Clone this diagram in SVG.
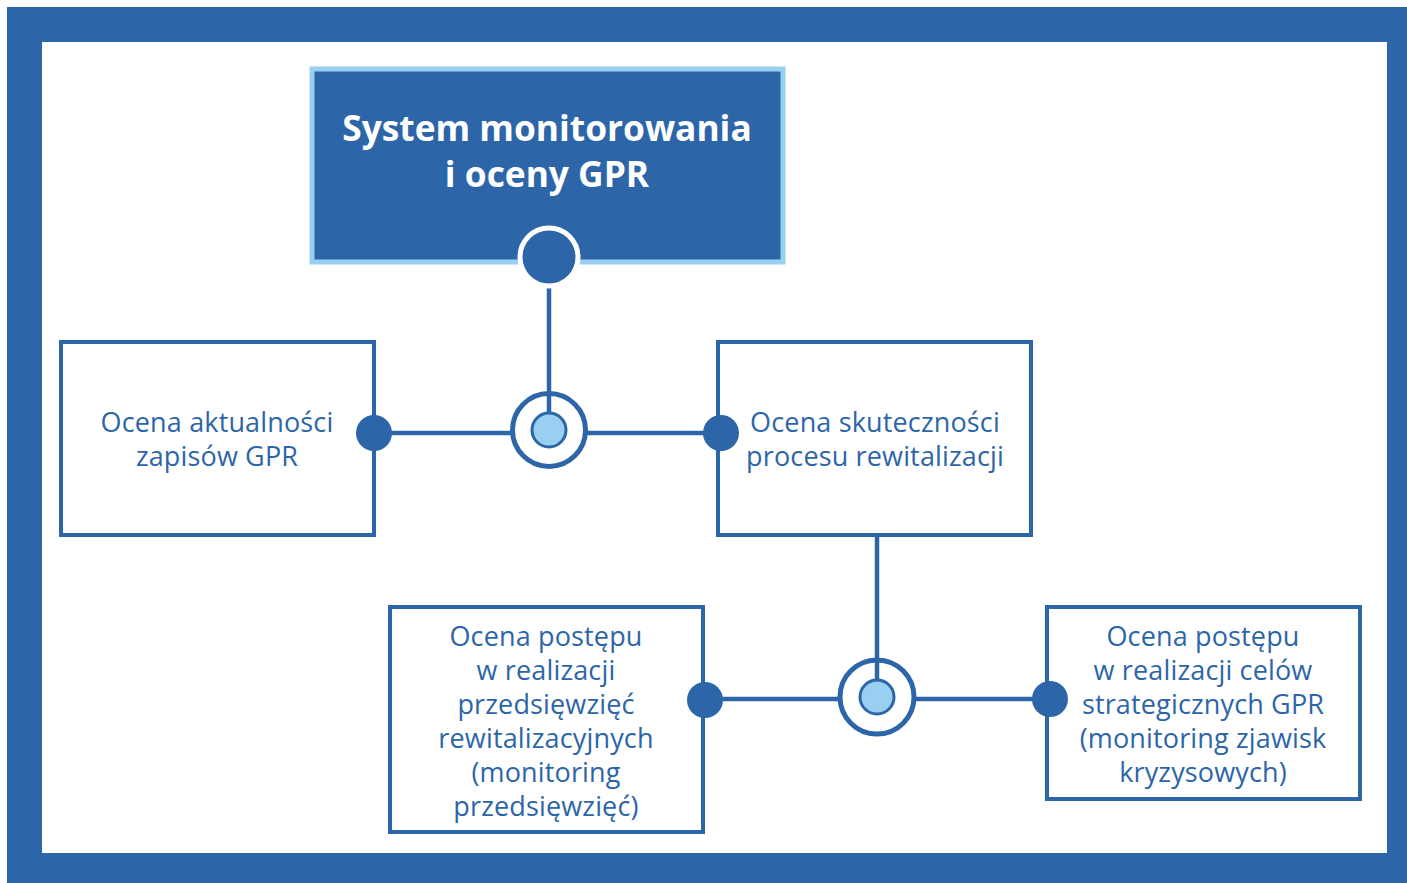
<svg xmlns="http://www.w3.org/2000/svg" width="1407" height="883" viewBox="0 0 1407 883">
<style>
.box{fill:#ffffff;stroke:#2d66a8;stroke-width:4}
.t{font-family:"Open Sans","Liberation Sans",sans-serif;font-size:27px;letter-spacing:0.15px;fill:#2d66a8;text-anchor:middle}
.title{font-family:"Open Sans","Liberation Sans",sans-serif;font-size:35.3px;font-weight:bold;fill:#ffffff;text-anchor:middle}
.ln{stroke:#2d66a8;stroke-width:4.5;fill:none}
.dot{fill:#2d66a8}
.ring{fill:#ffffff;stroke:#2d66a8;stroke-width:5}
.hub{fill:#99d0f2;stroke:#2d66a8;stroke-width:3}
</style>
<rect x="7" y="7" width="1400" height="876" fill="#2d66a8"/>
<rect x="42" y="42" width="1345" height="811" fill="#ffffff"/>
<g id="connectors">
<line class="ln" x1="549" y1="258" x2="549" y2="414"/>
<line class="ln" x1="374" y1="433" x2="721" y2="433"/>
<line class="ln" x1="877" y1="535" x2="877" y2="680"/>
<line class="ln" x1="705" y1="699" x2="1050" y2="699"/>
</g>
<g id="node-system">
<rect x="312" y="69" width="471" height="193" fill="#2d66a8" stroke="#99d0f2" stroke-width="5"/>
<text class="title" x="547" y="141">System monitorowania</text>
<text class="title" x="547" y="187">i oceny GPR</text>
<circle cx="549" cy="257" r="29" fill="#2d66a8" stroke="#ffffff" stroke-width="5"/>
</g>
<g id="node-aktualnosc">
<rect class="box" x="61" y="342" width="313" height="193"/>
<text class="t" x="217" y="432">Ocena aktualności</text>
<text class="t" x="217" y="466">zapisów GPR</text>
<circle class="dot" cx="374" cy="433" r="18"/>
</g>
<g id="node-skutecznosc">
<rect class="box" x="718" y="342" width="313" height="193"/>
<text class="t" x="875" y="432">Ocena skuteczności</text>
<text class="t" x="875" y="466">procesu rewitalizacji</text>
<circle class="dot" cx="721" cy="433" r="18"/>
</g>
<g id="hub-1">
<circle class="ring" cx="549" cy="430" r="36.5"/>
<line class="ln" x1="549" y1="393" x2="549" y2="413"/>
<circle class="hub" cx="549" cy="430" r="17"/>
</g>
<g id="node-przedsiewziecia">
<rect class="box" x="390" y="607" width="313" height="225"/>
<text class="t" x="546" y="646">Ocena postępu</text>
<text class="t" x="546" y="680">w realizacji</text>
<text class="t" x="546" y="714">przedsięwzięć</text>
<text class="t" x="546" y="748">rewitalizacyjnych</text>
<text class="t" x="546" y="782">(monitoring</text>
<text class="t" x="546" y="816">przedsięwzięć)</text>
<circle class="dot" cx="705" cy="700" r="18"/>
</g>
<g id="node-cele">
<rect class="box" x="1047" y="607" width="313" height="192"/>
<text class="t" x="1203" y="646">Ocena postępu</text>
<text class="t" x="1203" y="680">w realizacji celów</text>
<text class="t" x="1203" y="714">strategicznych GPR</text>
<text class="t" x="1203" y="748">(monitoring zjawisk</text>
<text class="t" x="1203" y="782">kryzysowych)</text>
<circle class="dot" cx="1050" cy="699" r="18"/>
</g>
<g id="hub-2">
<circle class="ring" cx="877" cy="697" r="37"/>
<line class="ln" x1="877" y1="660" x2="877" y2="680"/>
<circle class="hub" cx="877" cy="697" r="17"/>
</g>
</svg>
